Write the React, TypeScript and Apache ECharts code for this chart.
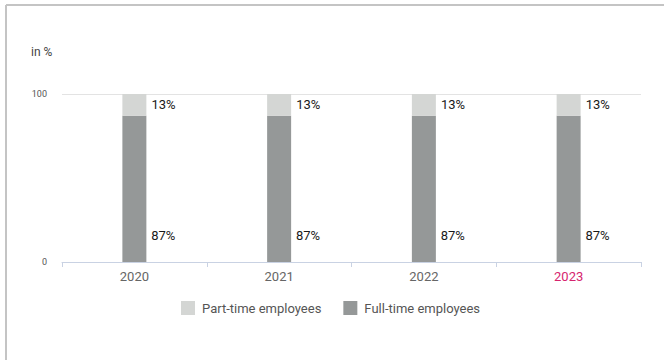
import React, { useEffect, useRef } from "react";
import * as echarts from "echarts";

const categories = ["2020", "2021", "2022", "2023"];
const fullTime = [87, 87, 87, 87];
const partTime = [13, 13, 13, 13];
const yTicks = [0, 100];
const highlightCategory = "2023";

const FONT = "Roboto, 'Noto Sans', sans-serif";

export default function App() {
  const ref = useRef<HTMLDivElement>(null);
  useEffect(() => {
    if (!ref.current) return;
    const chart = echarts.init(ref.current, null, { renderer: "svg" });
    chart.setOption({
      animation: false,
      textStyle: { fontFamily: FONT },
      graphic: [
        { type: "line", shape: { x1: 6, y1: 5, x2: 664, y2: 5 }, style: { stroke: "#c4c4c4", lineWidth: 2 } },
        { type: "line", shape: { x1: 6, y1: 5, x2: 6, y2: 360 }, style: { stroke: "#c4c4c4", lineWidth: 2 } },
        { type: "text", left: 31, top: 46, style: { text: "in %", fontSize: 12, fill: "#444", fontFamily: FONT } },
      ],
      legend: {
        bottom: 40,
        left: 176,
        itemWidth: 14,
        itemHeight: 14,
        itemGap: 22,
        icon: "rect",
        textStyle: { fontSize: 13, color: "#555", fontFamily: FONT, padding: [0, 0, 0, 2] },
        data: ["Part-time employees", "Full-time employees"],
      },
      grid: { left: 62, right: 23, top: 94, bottom: 98 },
      xAxis: {
        type: "category",
        data: categories,
        axisLine: { lineStyle: { color: "#c9d2e3", width: 1 } },
        axisTick: { show: true, length: 5, lineStyle: { color: "#c9d2e3" } },
        axisLabel: {
          margin: 8,
          fontSize: 13,
          fontFamily: FONT,
          color: (v: string) => (v === highlightCategory ? "#d6246e" : "#666"),
        },
      },
      yAxis: {
        type: "value",
        min: yTicks[0],
        max: yTicks[yTicks.length - 1],
        interval: 100,
        axisLine: { show: false },
        axisTick: { show: false },
        axisLabel: { fontSize: 9, color: "#555", margin: 15, fontFamily: FONT },
        splitLine: { lineStyle: { color: "#e3e3e3" } },
      },
      series: [
        {
          name: "Full-time employees",
          type: "bar",
          stack: "total",
          barWidth: 24,
          data: fullTime,
          itemStyle: { color: "#959898" },
          label: {
            show: true,
            position: ["120%", "82%"],
            align: "left",
            verticalAlign: "middle",
            formatter: "{c}%",
            fontSize: 13,
            fontWeight: "normal",
            color: "#1a1a1a",
            fontFamily: FONT,
          },
        },
        {
          name: "Part-time employees",
          type: "bar",
          stack: "total",
          barWidth: 24,
          data: partTime,
          itemStyle: { color: "#d4d6d4" },
          label: {
            show: true,
            position: "right",
            distance: 5,
            formatter: "{c}%",
            fontSize: 13,
            fontWeight: "normal",
            color: "#1a1a1a",
            fontFamily: FONT,
          },
        },
      ],
    });
    return () => chart.dispose();
  }, []);
  return (
    <div
      ref={ref}
      style={{ position: "fixed", left: 0, top: 0, width: 664, height: 360, background: "#fff" }}
    />
  );
}
